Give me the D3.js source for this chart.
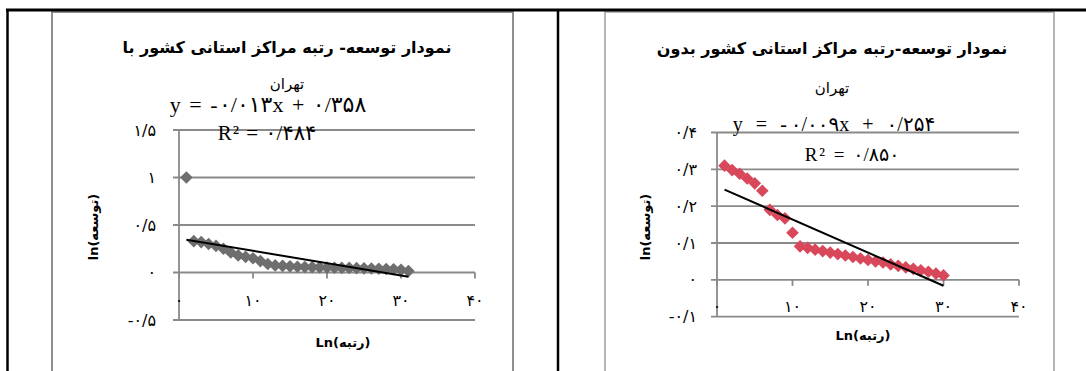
<!DOCTYPE html>
<html>
<head>
<meta charset="utf-8">
<script src="https://cdnjs.cloudflare.com/ajax/libs/d3/7.8.5/d3.min.js"></script>
<style>
body{margin:0;background:#fff}
svg{display:block}
</style>
</head>
<body>
<svg id="fig" width="1086" height="371"></svg>
<script>
// left chart: with Tehran (first point), right chart: without Tehran
var xWith = [1,2,3,4,5,6,7,8,9,10,11,12,13,14,15,16,17,18,19,20,21,22,23,24,25,26,27,28,29,30,31];
var yWith = [1.0,0.33,0.32,0.30,0.28,0.25,0.21,0.18,0.165,0.15,0.12,0.09,0.075,0.07,0.065,0.06,0.058,0.056,0.054,0.052,0.05,0.049,0.048,0.046,0.044,0.042,0.04,0.037,0.034,0.028,0.015];
var xWithout = [1,2,3,4,5,6,7,8,9,10,11,12,13,14,15,16,17,18,19,20,21,22,23,24,25,26,27,28,29,30];
var yWithout = [0.31,0.298,0.288,0.275,0.262,0.242,0.19,0.176,0.167,0.128,0.091,0.087,0.082,0.078,0.074,0.07,0.066,0.062,0.058,0.054,0.05,0.047,0.042,0.038,0.034,0.03,0.026,0.022,0.017,0.012];

var xTicks = [0,10,20,30,40];
var yTicksWith = [-0.5,0,0.5,1,1.5];
var yTicksWithout = [-0.1,0,0.1,0.2,0.3,0.4];

var trendWith = {slope:-0.013, intercept:0.358, r2:0.484, from:1, to:31};
var trendWithout = {slope:-0.009, intercept:0.254, r2:0.850, from:1, to:30};

var titleWith = ["نمودار توسعه- رتبه مراکز استانی کشور با", "تهران"];
var titleWithout = ["نمودار توسعه-رتبه مراکز استانی کشور بدون", "تهران"];
var xTitle = "Ln(رتبه)";
var yTitle = "ln(توسعه)";

var faDigits = "۰۱۲۳۴۵۶۷۸۹";
function fa(s){
  return String(s).replace(".", "/").replace(/[0-9]/g, d => faDigits[+d]);
}

var svg = d3.select("#fig");
var gridColor = "#8a8a8a";

// table lines
svg.append("rect").attr("x",52).attr("y",12).attr("width",461).attr("height",380)
  .attr("fill","none").attr("stroke","#8f8f8f").attr("stroke-width",2);
svg.append("rect").attr("x",605).attr("y",12).attr("width",449).attr("height",380)
  .attr("fill","none").attr("stroke","#b5b5b5").attr("stroke-width",2);
svg.append("line").attr("x1",6).attr("x2",1086).attr("y1",10).attr("y2",10)
  .attr("stroke","#000").attr("stroke-width",3);
svg.append("line").attr("x1",7.5).attr("x2",7.5).attr("y1",9).attr("y2",371)
  .attr("stroke","#000").attr("stroke-width",2.5);
svg.append("line").attr("x1",558).attr("x2",558).attr("y1",9).attr("y2",371)
  .attr("stroke","#000").attr("stroke-width",2.5);

drawChart({
  xs:xWith, ys:yWith, yTicks:yTicksWith, trend:trendWith, title:titleWith,
  x0:179, x1:475, yTop:130, yBot:320, color:"#6e6e6e",
  titleX:287, titleY:[47,84], eqX:268, eqY:104, eqSize:22, eqSpace:1.5, r2X:267, r2Y:133, r2Size:21, r2Space:1,
  yLabX:156, xLabY:300, yTitleX:93, yTitleY:227, xTitleX:343, xTitleY:342
});
drawChart({
  xs:xWithout, ys:yWithout, yTicks:yTicksWithout, trend:trendWithout, title:titleWithout,
  x0:717, x1:1019, yTop:132.5, yBot:316.7, color:"#d8475a",
  titleX:832, titleY:[48,88], eqX:834, eqY:124, eqSize:20, eqSpace:4, r2X:852, r2Y:154, r2Size:19, r2Space:2,
  yLabX:697, xLabY:306, yTitleX:645, yTitleY:227, xTitleX:863, xTitleY:335
});

function drawChart(c){
  let g = svg.append("g");
  let x = d3.scaleLinear().domain([0,40]).range([c.x0, c.x1]);
  let y = d3.scaleLinear().domain([c.yTicks[0], c.yTicks[c.yTicks.length-1]]).range([c.yBot, c.yTop]);

  // horizontal gridlines + y ticks
  c.yTicks.forEach(t => {
    g.append("line")
      .attr("x1", c.x0 - 6).attr("x2", c.x1)
      .attr("y1", y(t)).attr("y2", y(t))
      .attr("stroke", gridColor).attr("stroke-width", 1.8);
    g.append("text")
      .attr("x", c.yLabX).attr("y", y(t))
      .attr("dy", "0.35em")
      .attr("text-anchor", "end")
      .style("font-family", "DejaVu Sans")
      .style("font-size", "16px")
      .style("letter-spacing", "1px")
      .text(fa(t));
  });
  // y axis line
  g.append("line")
    .attr("x1", c.x0).attr("x2", c.x0)
    .attr("y1", c.yTop).attr("y2", c.yBot)
    .attr("stroke", gridColor).attr("stroke-width", 1.8);

  // x ticks at y=0
  xTicks.forEach(t => {
    g.append("line")
      .attr("x1", x(t)).attr("x2", x(t))
      .attr("y1", y(0)).attr("y2", y(0) + 6)
      .attr("stroke", gridColor).attr("stroke-width", 1.8);
    g.append("text")
      .attr("x", x(t)).attr("y", c.xLabY)
      .attr("dy", "0.35em")
      .attr("text-anchor", "middle")
      .style("font-family", "DejaVu Sans")
      .style("font-size", "16px")
      .style("letter-spacing", "3px")
      .text(fa(t));
  });

  // points
  let pts = c.xs.map((v,i) => ({x:v, y:c.ys[i]}));
  g.selectAll("path.pt").data(pts).enter().append("path")
    .attr("class","pt")
    .attr("d", d3.symbol(d3.symbolSquare).size(80))
    .attr("transform", d => "translate(" + x(d.x) + "," + y(d.y) + ") rotate(45)")
    .attr("fill", c.color);

  // trend line
  let line = d3.line().x(d => x(d.x)).y(d => y(d.y));
  let tr = c.trend;
  g.append("path")
    .datum([{x:tr.from, y:tr.slope*tr.from + tr.intercept}, {x:tr.to, y:tr.slope*tr.to + tr.intercept}])
    .attr("d", line)
    .attr("fill", "none")
    .attr("stroke", "#000")
    .attr("stroke-width", 2);

  // titles
  c.title.forEach((t,i) => {
    g.append("text")
      .attr("x", c.titleX).attr("y", c.titleY[i])
      .attr("dy", "0.35em")
      .attr("text-anchor", "middle")
      .attr("direction", "rtl")
      .style("font-family", "DejaVu Sans")
      .style("font-weight", i == 0 ? "bold" : "normal")
      .style("font-size", i == 0 ? "16px" : "15px")
      .text(t);
  });

  // equation + r2
  g.append("text")
    .attr("x", c.eqX).attr("y", c.eqY)
    .attr("dy", "0.35em")
    .attr("text-anchor", "middle")
    .style("font-family", "Liberation Serif, DejaVu Sans")
    .style("font-size", c.eqSize + "px")
    .style("letter-spacing", c.eqSpace + "px")
    .text("y = " + fa(tr.slope.toFixed(3)) + "x + " + fa(tr.intercept.toFixed(3)));
  g.append("text")
    .attr("x", c.r2X).attr("y", c.r2Y)
    .attr("dy", "0.35em")
    .attr("text-anchor", "middle")
    .style("font-family", "Liberation Serif, DejaVu Sans")
    .style("font-size", c.r2Size + "px")
    .style("letter-spacing", c.r2Space + "px")
    .text("R² = " + fa(tr.r2.toFixed(3)));

  // axis titles
  g.append("text")
    .attr("x", c.xTitleX).attr("y", c.xTitleY)
    .attr("dy", "0.35em")
    .attr("text-anchor", "middle")
    .style("font-family", "DejaVu Sans")
    .style("font-weight", "bold")
    .style("font-size", "13px")
    .text(xTitle);
  g.append("text")
    .attr("transform", "translate(" + c.yTitleX + "," + c.yTitleY + ") rotate(-90)")
    .attr("dy", "0.35em")
    .attr("text-anchor", "middle")
    .style("font-family", "DejaVu Sans")
    .style("font-weight", "bold")
    .style("font-size", "13px")
    .text(yTitle);
}
</script>
</body>
</html>
